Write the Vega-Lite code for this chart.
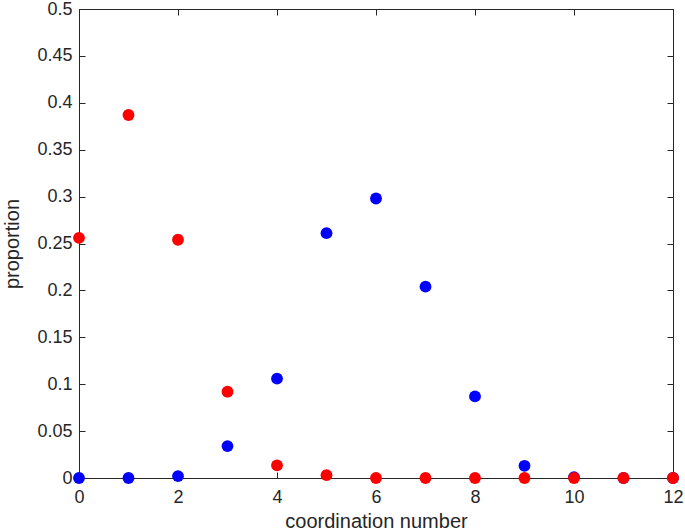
{
  "$schema": "https://vega.github.io/schema/vega-lite/v6.json",
  "autosize": "none",
  "width": 594,
  "height": 469,
  "padding": {"left": 79, "top": 9, "right": 12, "bottom": 54},
  "background": "white",
  "config": {
    "view": {"stroke": "#262626", "strokeWidth": 1},
    "font": "Liberation Sans",
    "axis": {
      "grid": false,
      "domainColor": "#262626",
      "tickColor": "#262626",
      "labelColor": "#262626",
      "titleColor": "#262626",
      "labelFont": "Liberation Sans",
      "titleFont": "Liberation Sans",
      "labelFontSize": 18,
      "titleFontSize": 20,
      "titleFontWeight": "normal",
      "labelFlush": false,
      "labelOverlap": false,
      "tickSize": -6
    }
  },
  "data": {
    "values": [
      {"n": 0, "p": 0.0, "s": "blue"},
      {"n": 1, "p": 0.0, "s": "blue"},
      {"n": 2, "p": 0.002, "s": "blue"},
      {"n": 3, "p": 0.034, "s": "blue"},
      {"n": 4, "p": 0.106, "s": "blue"},
      {"n": 5, "p": 0.261, "s": "blue"},
      {"n": 6, "p": 0.298, "s": "blue"},
      {"n": 7, "p": 0.204, "s": "blue"},
      {"n": 8, "p": 0.087, "s": "blue"},
      {"n": 9, "p": 0.013, "s": "blue"},
      {"n": 10, "p": 0.001, "s": "blue"},
      {"n": 11, "p": 0.0, "s": "blue"},
      {"n": 12, "p": 0.0, "s": "blue"},
      {"n": 0, "p": 0.256, "s": "red"},
      {"n": 1, "p": 0.387, "s": "red"},
      {"n": 2, "p": 0.254, "s": "red"},
      {"n": 3, "p": 0.092, "s": "red"},
      {"n": 4, "p": 0.0135, "s": "red"},
      {"n": 5, "p": 0.003, "s": "red"},
      {"n": 6, "p": 0.0, "s": "red"},
      {"n": 7, "p": 0.0, "s": "red"},
      {"n": 8, "p": 0.0, "s": "red"},
      {"n": 9, "p": 0.0, "s": "red"},
      {"n": 10, "p": 0.0, "s": "red"},
      {"n": 11, "p": 0.0, "s": "red"},
      {"n": 12, "p": 0.0, "s": "red"}
    ]
  },
  "layer": [
    {
      "mark": {"type": "point", "filled": true, "opacity": 1, "size": 140, "clip": false},
      "encoding": {
        "x": {"field": "n", "type": "quantitative", "scale": {"domain": [0, 12], "nice": false, "zero": false},
          "axis": {"values": [0, 2, 4, 6, 8, 10, 12], "format": "~g", "title": "coordination number", "labelPadding": 16, "titlePadding": 5}},
        "y": {"field": "p", "type": "quantitative", "scale": {"domain": [0, 0.5], "nice": false},
          "axis": {"values": [0, 0.05, 0.1, 0.15, 0.2, 0.25, 0.3, 0.35, 0.4, 0.45, 0.5], "format": "~g", "title": "proportion", "labelPadding": 13, "titlePadding": 14}},
        "color": {"field": "s", "type": "nominal", "scale": {"domain": ["blue", "red"], "range": ["#0000ff", "#ff0000"]}, "legend": null},
        "order": {"field": "s", "sort": "ascending"}
      }
    },
    {
      "mark": {"type": "point", "opacity": 0},
      "encoding": {
        "x": {"field": "n", "type": "quantitative", "scale": {"domain": [0, 12], "nice": false, "zero": false},
          "axis": {"orient": "top", "values": [0, 2, 4, 6, 8, 10, 12], "labels": false, "title": null}},
        "y": {"field": "p", "type": "quantitative", "scale": {"domain": [0, 0.5], "nice": false},
          "axis": {"orient": "right", "values": [0, 0.05, 0.1, 0.15, 0.2, 0.25, 0.3, 0.35, 0.4, 0.45, 0.5], "labels": false, "title": null}}
      }
    }
  ],
  "resolve": {"scale": {"x": "independent", "y": "independent"}}
}
